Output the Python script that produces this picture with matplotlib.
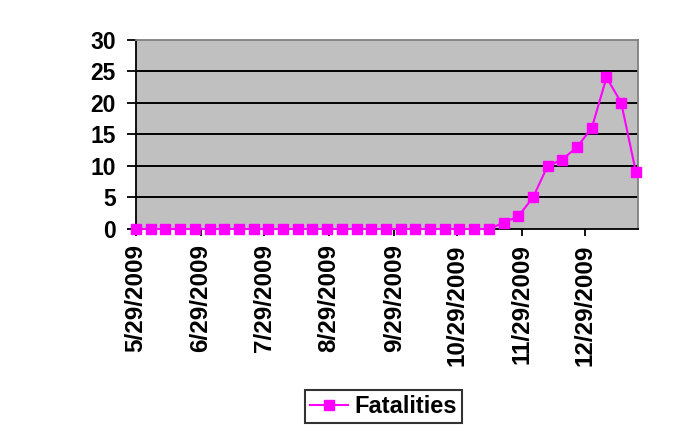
import datetime as dt
import matplotlib
matplotlib.use("Agg")
import matplotlib.pyplot as plt
import matplotlib.dates as mdates

# weekly counts starting 5/29/2009
start = dt.date(2009, 5, 29)
fatalities = [0] * 25 + [1, 2, 5, 10, 11, 13, 16, 24, 20, 9]
dates = [start + dt.timedelta(days=7 * i) for i in range(len(fatalities))]

tick_dates = [dt.date(2009, m, 29) for m in range(5, 13)]
tick_labels = [f"{d.month}/{d.day}/{d.year}" for d in tick_dates]
y_ticks = [0, 5, 10, 15, 20, 25, 30]

plt.rcParams['font.family'] = ['Liberation Sans', 'DejaVu Sans']

fig = plt.figure(figsize=(6.77, 4.47), dpi=100)
ax = fig.add_axes([0.2009, 0.4877, 0.7415, 0.4239])
ax.set_facecolor('#C0C0C0')

for y in y_ticks[1:-1]:
    ax.axhline(y, color='black', linewidth=1.4, zorder=1)

ax.plot(dates, fatalities, color='#FF00FF', linewidth=1.5, marker='s',
        markersize=6.5, label='Fatalities', zorder=3, clip_on=False)

ax.set_xlim(dates[0], dates[-1] + dt.timedelta(days=1))
ax.set_ylim(0, 30)
ax.set_yticks(y_ticks)
ax.set_yticklabels([str(v) for v in y_ticks], fontsize=16.5, fontweight='bold')
ax.set_xticks([mdates.date2num(d) for d in tick_dates])
ax.set_xticklabels(tick_labels, rotation=90, fontsize=17.5, fontweight='bold')

ax.tick_params(axis='both', direction='out', width=1.3, color='black')
ax.tick_params(axis='y', length=6.5, pad=8)
ax.tick_params(axis='x', length=5, pad=6)

ax.spines['left'].set_color('black')
ax.spines['bottom'].set_color('black')
ax.spines['left'].set_linewidth(1.3)
ax.spines['bottom'].set_linewidth(1.3)
ax.spines['top'].set_color('#808080')
ax.spines['right'].set_color('#808080')
ax.spines['top'].set_linewidth(1.3)
ax.spines['right'].set_linewidth(1.3)

leg = fig.legend(loc='center', bbox_to_anchor=(0.5665, 0.0906),
                 prop={'size': 17, 'weight': 'bold'},
                 frameon=True, fancybox=False, handlelength=1.6,
                 handletextpad=0.3, borderpad=0.2)
leg.get_frame().set_edgecolor('black')
leg.get_frame().set_linewidth(1.5)

fig.savefig('out.png', dpi=100, facecolor='white')
